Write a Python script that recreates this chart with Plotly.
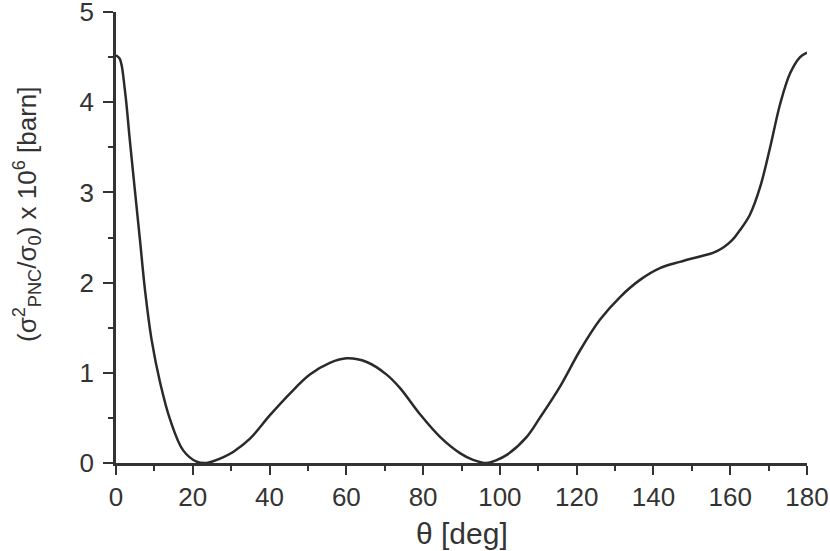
import plotly.graph_objects as go

theta = [0, 1, 2.3, 3.6, 4.9, 6.25, 7.55, 9.3, 11.5, 14.1, 17.5, 21, 23.6, 25.3, 28, 30.6, 34.9,
         40.1, 45.3, 50.5, 55.7, 60.1, 65.3, 70.5, 74, 79.2, 84.4, 89.6, 93, 96.6, 99, 101.8,
         107, 110.4, 115.7, 120.9, 126.1, 131.3, 136.5, 141.7, 146.9, 152.1, 155.5, 158.2, 160.5,
         162.5, 165.1, 167.8, 170.4, 173, 175.6, 178.2, 180]
sigma = [4.52, 4.48, 4.14, 3.58, 3.03, 2.47, 1.92, 1.36, 0.89, 0.48, 0.14, 0.015, 0.0, 0.02,
         0.065, 0.125, 0.27, 0.53, 0.77, 0.98, 1.11, 1.16, 1.12, 0.98, 0.83, 0.54, 0.29, 0.11, 0.035,
         0.0, 0.03, 0.09, 0.29, 0.5, 0.85, 1.25, 1.59, 1.84, 2.03, 2.16, 2.23, 2.29, 2.33, 2.39, 2.47,
         2.58, 2.75, 3.06, 3.50, 3.98, 4.32, 4.5, 4.55]

x_ticks = [0, 20, 40, 60, 80, 100, 120, 140, 160, 180]
y_ticks = [0, 1, 2, 3, 4, 5]

ink = "#333333"
family = "Liberation Sans, Arial, Helvetica, sans-serif"
tick_font = dict(family=family, size=26, color=ink)
xtitle_font = dict(family=family, size=30, color=ink)
ytitle_font = dict(family=family, size=26, color=ink)

L, R, T, B = 116, 23, 12, 88
W, H = 830, 551
pw, ph = W - L - R, H - T - B

fig = go.Figure()
fig.add_trace(go.Scatter(x=theta, y=sigma, mode="lines",
                         line=dict(color="#2a2a2a", width=2.5, shape="spline", smoothing=1.0),
                         showlegend=False, hoverinfo="skip"))

fig.update_layout(
    width=W, height=H,
    margin=dict(l=L, r=R, t=T, b=B),
    paper_bgcolor="white", plot_bgcolor="white",
    font=tick_font,
)
fig.update_xaxes(
    range=[0, 180], tickvals=x_ticks, ticktext=[str(v) for v in x_ticks],
    showgrid=False, zeroline=False, showline=True, linecolor=ink, linewidth=2.5,
    ticks="outside", ticklen=9, tickwidth=2, tickcolor=ink,
    minor=dict(dtick=10, ticks="outside", ticklen=5, tickwidth=2, tickcolor=ink, showgrid=False),
    tickfont=tick_font, automargin=False, ticklabeloverflow="allow",
)
fig.update_yaxes(
    range=[0, 5], tickvals=y_ticks, ticktext=[str(v) for v in y_ticks],
    showgrid=False, zeroline=False, showline=True, linecolor=ink, linewidth=2.5,
    ticks="outside", ticklen=10, tickwidth=2, tickcolor=ink,
    minor=dict(dtick=0.5, ticks="outside", ticklen=5, tickwidth=2, tickcolor=ink, showgrid=False),
    tickfont=tick_font, automargin=False, ticklabelstandoff=4, ticklabeloverflow="allow",
)

fig.add_annotation(
    text="θ [deg]", xref="paper", yref="paper",
    x=0.5, y=-(533 - (T + ph)) / ph, xanchor="center", yanchor="middle",
    showarrow=False, font=xtitle_font,
)
fig.add_annotation(
    text="(σ<sup>2</sup><sub>PNC</sub>/σ<sub>0</sub>) x 10<sup>6</sup> [barn]",
    xref="paper", yref="paper",
    x=-(L - 27) / pw, y=(T + ph - 214) / ph, xanchor="center", yanchor="middle",
    textangle=-90, showarrow=False, font=ytitle_font,
)

fig.write_html(
    "out.html",
    config={"displayModeBar": False},
    post_script="document.body.style.margin='0';document.body.style.padding='0';",
)
